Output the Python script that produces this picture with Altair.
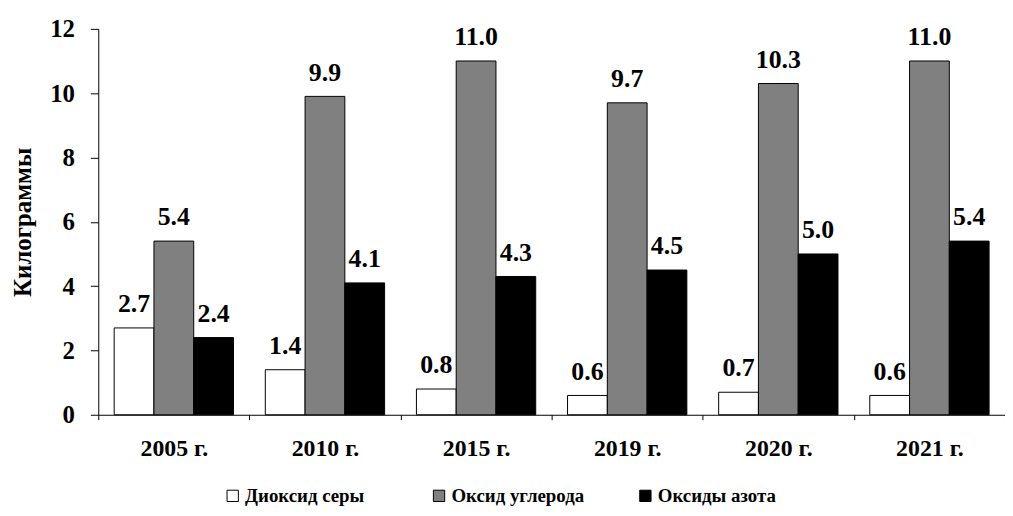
import altair as alt
import pandas as pd

years = ["2005 г.", "2010 г.", "2015 г.", "2019 г.", "2020 г.", "2021 г."]
series = ["Диоксид серы", "Оксид углерода", "Оксиды азота"]
so2 = [2.7, 1.4, 0.8, 0.6, 0.7, 0.6]
co = [5.4, 9.9, 11.0, 9.7, 10.3, 11.0]
nox = [2.4, 4.1, 4.3, 4.5, 5.0, 5.4]
colors = ["white", "#808080", "black"]
y_ticks = [0, 2, 4, 6, 8, 10, 12]

rows = []
for s, vals in zip(series, [so2, co, nox]):
    for y, v in zip(years, vals):
        rows.append({"year": y, "series": s, "value": v})
df = pd.DataFrame(rows)

FONT = "Liberation Serif"

base = alt.Chart(df).encode(
    x=alt.X(
        "year:N",
        sort=years,
        scale=alt.Scale(paddingInner=0, paddingOuter=0),
        axis=alt.Axis(
            title=None,
            tickBand="extent",
            labelAngle=0,
            tickSize=5,
            labelPadding=17,
            labelFontSize=24,
        ),
    ),
    xOffset=alt.XOffset(
        "series:N", sort=series, scale=alt.Scale(paddingInner=0, paddingOuter=0.4)
    ),
    y=alt.Y(
        "value:Q",
        scale=alt.Scale(domain=[0, 12], nice=False),
        axis=alt.Axis(
            title="Килограммы",
            values=y_ticks,
            grid=False,
            tickSize=8,
            labelPadding=16,
            labelFontSize=25,
            titleFontSize=25,
            titlePadding=14,
        ),
    ),
)

bars = base.mark_bar(stroke="black", strokeWidth=1).encode(
    color=alt.Color(
        "series:N",
        sort=series,
        scale=alt.Scale(domain=series, range=colors),
        legend=alt.Legend(
            title=None,
            orient="none",
            legendX=126,
            legendY=461,
            direction="horizontal",
            columns=3,
            gridAlign="all",
            symbolType="square",
            symbolSize=130,
            symbolStrokeColor="black",
            symbolStrokeWidth=1,
            labelFont=FONT,
            labelFontSize=19,
            labelFontWeight="bold",
            labelColor="black",
            labelOffset=3,
            columnPadding=52,
        ),
    )
)

labels = base.mark_text(
    baseline="alphabetic",
    dy=-16,
    font=FONT,
    fontSize=26,
    fontWeight="bold",
    color="black",
).encode(text=alt.Text("value:Q", format=".1f"))

chart = (
    alt.layer(bars, labels)
    .properties(
        width=914,
        height=389,
        autosize=alt.AutoSizeParams(type="none"),
        padding={"left": 91, "top": 19, "right": 0, "bottom": 95},
    )
    .configure_view(stroke=None)
    .configure_axis(
        labelFont=FONT,
        labelFontWeight="bold",
        labelColor="black",
        titleFont=FONT,
        titleFontWeight="bold",
        titleColor="black",
        domainColor="black",
        tickColor="black",
    )
)

chart.save("out.html", embed_options={"renderer": "svg", "actions": False})
